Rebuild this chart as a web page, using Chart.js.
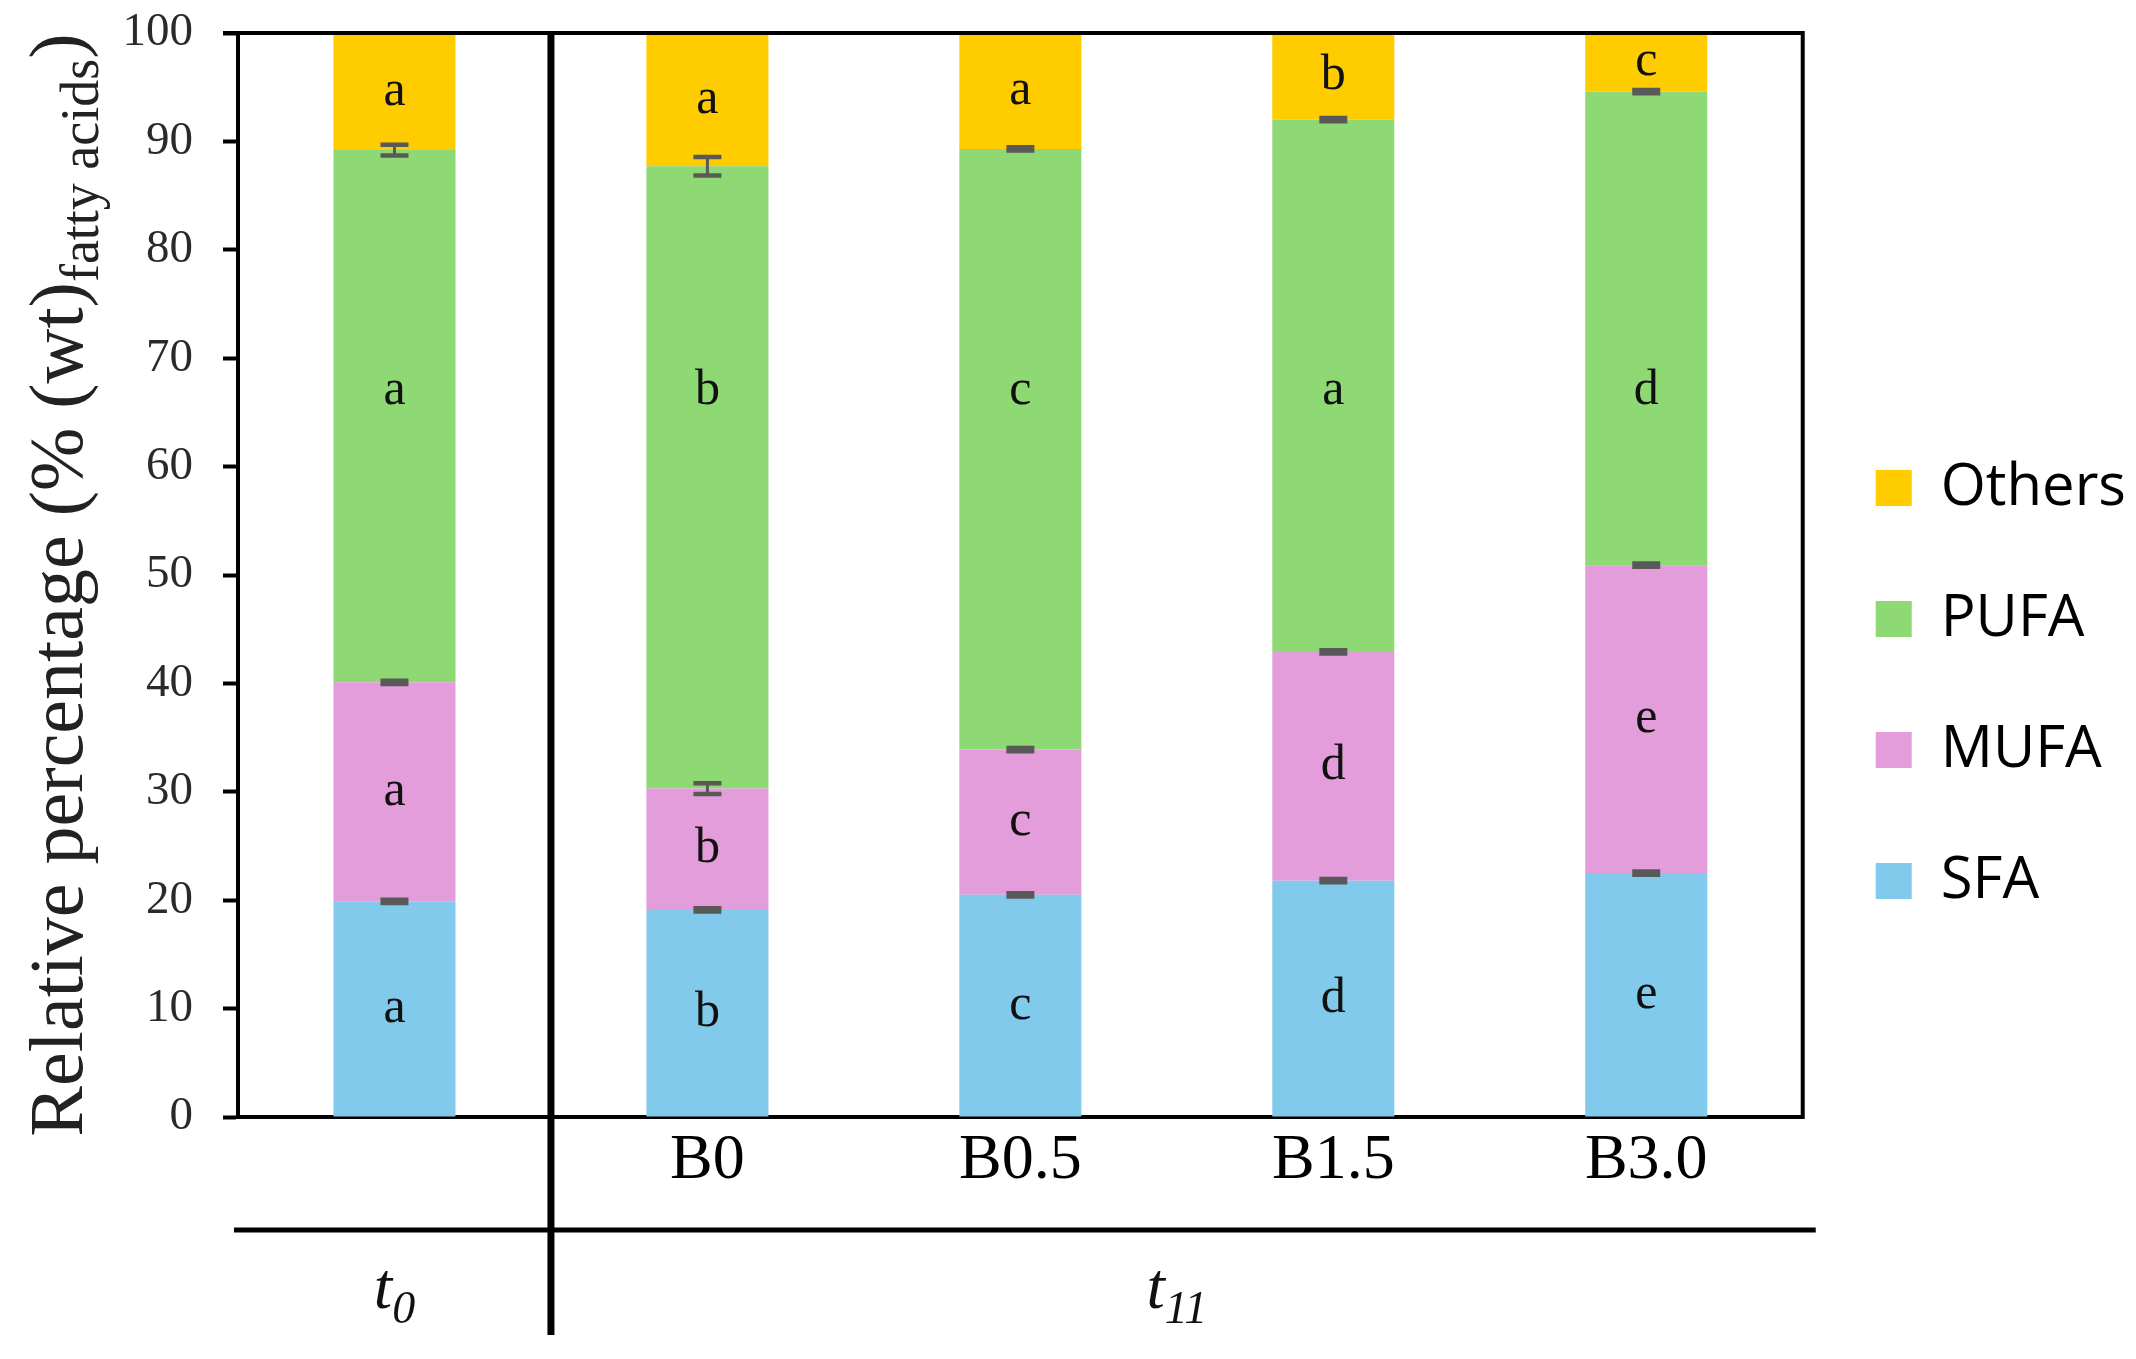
<!DOCTYPE html>
<html><head><meta charset="utf-8">
<script src="https://cdn.jsdelivr.net/npm/chart.js@4.4.1/dist/chart.umd.min.js"></script>
<style>html,body{margin:0;padding:0;background:#fff;}canvas{display:block;}</style>
</head><body>
<canvas id="c" width="2136" height="1359"></canvas>
<script>
// ---- data ----
const categories = ['', 'B0', 'B0.5', 'B1.5', 'B3.0'];
const seriesNames = ['SFA', 'MUFA', 'PUFA', 'Others'];
const sfa    = [19.9, 19.1, 20.5, 21.8, 22.5];
const mufa   = [20.2, 11.2, 13.4, 21.1, 28.4];
const pufa   = [49.1, 57.4, 55.4, 49.1, 43.7];
const others = [10.8, 12.3, 10.7, 8.0, 5.4];
const sfaErr  = [0.15, 0.15, 0.15, 0.15, 0.15];
const mufaErr = [0.15, 0.5, 0.15, 0.15, 0.15];
const pufaErr = [0.5, 0.85, 0.15, 0.15, 0.15];
const sfaLetters    = ['a', 'b', 'c', 'd', 'e'];
const mufaLetters   = ['a', 'b', 'c', 'd', 'e'];
const pufaLetters   = ['a', 'b', 'c', 'a', 'd'];
const othersLetters = ['a', 'a', 'a', 'b', 'c'];
const groupMain  = ['t', 't'];
const groupSub   = ['0', '11'];
const groupFirst = [0, 1];
const groupLast  = [0, 4];
const yTitleMain = 'Relative percentage (% (wt)';
const yTitleSub  = 'fatty acids';
const yTitleEnd  = ')';

// ---- style ----
const SERIF = '"Liberation Serif", "DejaVu Serif", serif';
const colors = ['#82CAEB', '#E39DDB', '#8ED973', '#FFCC00'];
const pufaLabelValue = 67;

const decor = {
  id: 'decor',
  afterDatasetsDraw(chart) {
    const {ctx, scales: {x, y}} = chart;
    const errs = [sfaErr, mufaErr, pufaErr];
    ctx.save();
    ctx.strokeStyle = '#595959';
    errs.forEach((arr, d) => {
      const meta = chart.getDatasetMeta(d);
      arr.forEach((e, i) => {
        const el = meta.data[i];
        let top = 0;
        for (let k = 0; k <= d; k++) top += chart.data.datasets[k].data[i];
        const yHi = y.getPixelForValue(top + e), yLo = y.getPixelForValue(top - e);
        const cx = el.x, hw = 14;
        ctx.lineWidth = 3;
        ctx.beginPath(); ctx.moveTo(cx, yHi); ctx.lineTo(cx, yLo); ctx.stroke();
        ctx.lineWidth = 4.5;
        ctx.beginPath();
        ctx.moveTo(cx - hw, yHi); ctx.lineTo(cx + hw, yHi);
        ctx.moveTo(cx - hw, yLo); ctx.lineTo(cx + hw, yLo);
        ctx.stroke();
      });
    });
    // letters
    const letters = [sfaLetters, mufaLetters, pufaLetters, othersLetters];
    ctx.fillStyle = '#111';
    ctx.font = '50px ' + SERIF;
    ctx.textAlign = 'center';
    ctx.textBaseline = 'middle';
    letters.forEach((arr, d) => {
      const meta = chart.getDatasetMeta(d);
      arr.forEach((t, i) => {
        const el = meta.data[i];
        let yc = (el.y + el.base) / 2;
        if (d === 2) yc = y.getPixelForValue(pufaLabelValue);
        ctx.fillText(t, el.x, yc);
      });
    });
    ctx.restore();
  },
  afterDraw(chart) {
    const {ctx, chartArea: ca, scales: {x, y}} = chart;
    ctx.save();
    ctx.strokeStyle = '#000';
    ctx.lineCap = 'butt';
    // top and right frame
    ctx.lineWidth = 4;
    ctx.beginPath();
    ctx.moveTo(ca.left - 15, ca.top); ctx.lineTo(ca.right + 2, ca.top);
    ctx.moveTo(ca.right, ca.top); ctx.lineTo(ca.right, ca.bottom + 2);
    ctx.stroke();
    // divider between groups
    const xd = (x.getPixelForValue(groupLast[0]) + x.getPixelForValue(groupFirst[1])) / 2;
    ctx.lineWidth = 7;
    ctx.beginPath(); ctx.moveTo(xd, ca.top - 2); ctx.lineTo(xd, ca.bottom + 218); ctx.stroke();
    // lower horizontal line
    ctx.lineWidth = 5;
    ctx.beginPath(); ctx.moveTo(ca.left - 4, ca.bottom + 113); ctx.lineTo(ca.right + 13, ca.bottom + 113); ctx.stroke();
    // group labels
    ctx.fillStyle = '#111';
    ctx.textBaseline = 'alphabetic';
    ctx.textAlign = 'left';
    groupMain.forEach((m, g) => {
      let sum = 0, n = 0;
      for (let i = groupFirst[g]; i <= groupLast[g]; i++) { sum += x.getPixelForValue(i); n++; }
      const cx = sum / n;
      ctx.font = 'italic 66px ' + SERIF;
      const wm = ctx.measureText(m).width;
      ctx.font = 'italic 46px ' + SERIF;
      const ws = ctx.measureText(groupSub[g]).width;
      const x0 = cx - (wm + ws) / 2;
      const by = ca.bottom + 191;
      ctx.font = 'italic 66px ' + SERIF;
      ctx.fillText(m, x0, by);
      ctx.font = 'italic 46px ' + SERIF;
      ctx.fillText(groupSub[g], x0 + wm, by + 15);
    });
    // y-axis title with subscript
    ctx.fillStyle = '#222';
    const cy = (ca.top + ca.bottom) / 2 + 10;
    ctx.translate(ca.left - 156, cy);
    ctx.rotate(-Math.PI / 2);
    ctx.font = '76px ' + SERIF;
    const w1 = ctx.measureText(yTitleMain).width;
    const w3 = ctx.measureText(yTitleEnd).width;
    ctx.font = '54px ' + SERIF;
    const w2 = ctx.measureText(yTitleSub).width;
    let sx = -(w1 + w2 + w3) / 2;
    ctx.font = '76px ' + SERIF;
    ctx.fillText(yTitleMain, sx, 0);
    ctx.font = '54px ' + SERIF;
    ctx.fillText(yTitleSub, sx + w1, 16);
    ctx.font = '76px ' + SERIF;
    ctx.fillText(yTitleEnd, sx + w1 + w2, 0);
    ctx.restore();
  }
};

const seriesData = [sfa, mufa, pufa, others];
new Chart(document.getElementById('c').getContext('2d'), {
  type: 'bar',
  data: {
    labels: categories,
    datasets: seriesNames.map((n, k) => ({label: n, data: seriesData[k], backgroundColor: colors[k], borderWidth: 0}))
  },
  options: {
    responsive: false,
    devicePixelRatio: 1,
    animation: false,
    layout: {padding: {top: 33, bottom: 23, left: 0, right: 0}},
    datasets: {bar: {barPercentage: 0.39, categoryPercentage: 1}},
    scales: {
      x: {
        stacked: true,
        grid: {display: false},
        border: {display: true, color: '#000', width: 4},
        ticks: {font: {family: SERIF, size: 64}, color: '#000', padding: -2, maxRotation: 0, autoSkip: false},
        afterFit(s) { s.height = 219; s.paddingLeft = 0; s.paddingRight = 0; }
      },
      y: {
        stacked: true, min: 0, max: 100,
        ticks: {stepSize: 10, font: {family: SERIF, size: 47}, color: '#2a2a2a', padding: 30},
        grid: {drawOnChartArea: false, drawTicks: true, tickLength: 15, tickWidth: 4, tickColor: '#000'},
        border: {display: true, color: '#000', width: 4},
        afterFit(s) { s.width = 238; s.paddingTop = 0; s.paddingBottom = 0; }
      }
    },
    plugins: {
      legend: {
        position: 'right', reverse: true,
        labels: {boxWidth: 36, boxHeight: 36, padding: 73, color: '#000', font: {family: '"Open Sans", sans-serif', size: 58}}
      },
      tooltip: {enabled: false}
    }
  },
  plugins: [decor]
});
</script>
</body></html>
